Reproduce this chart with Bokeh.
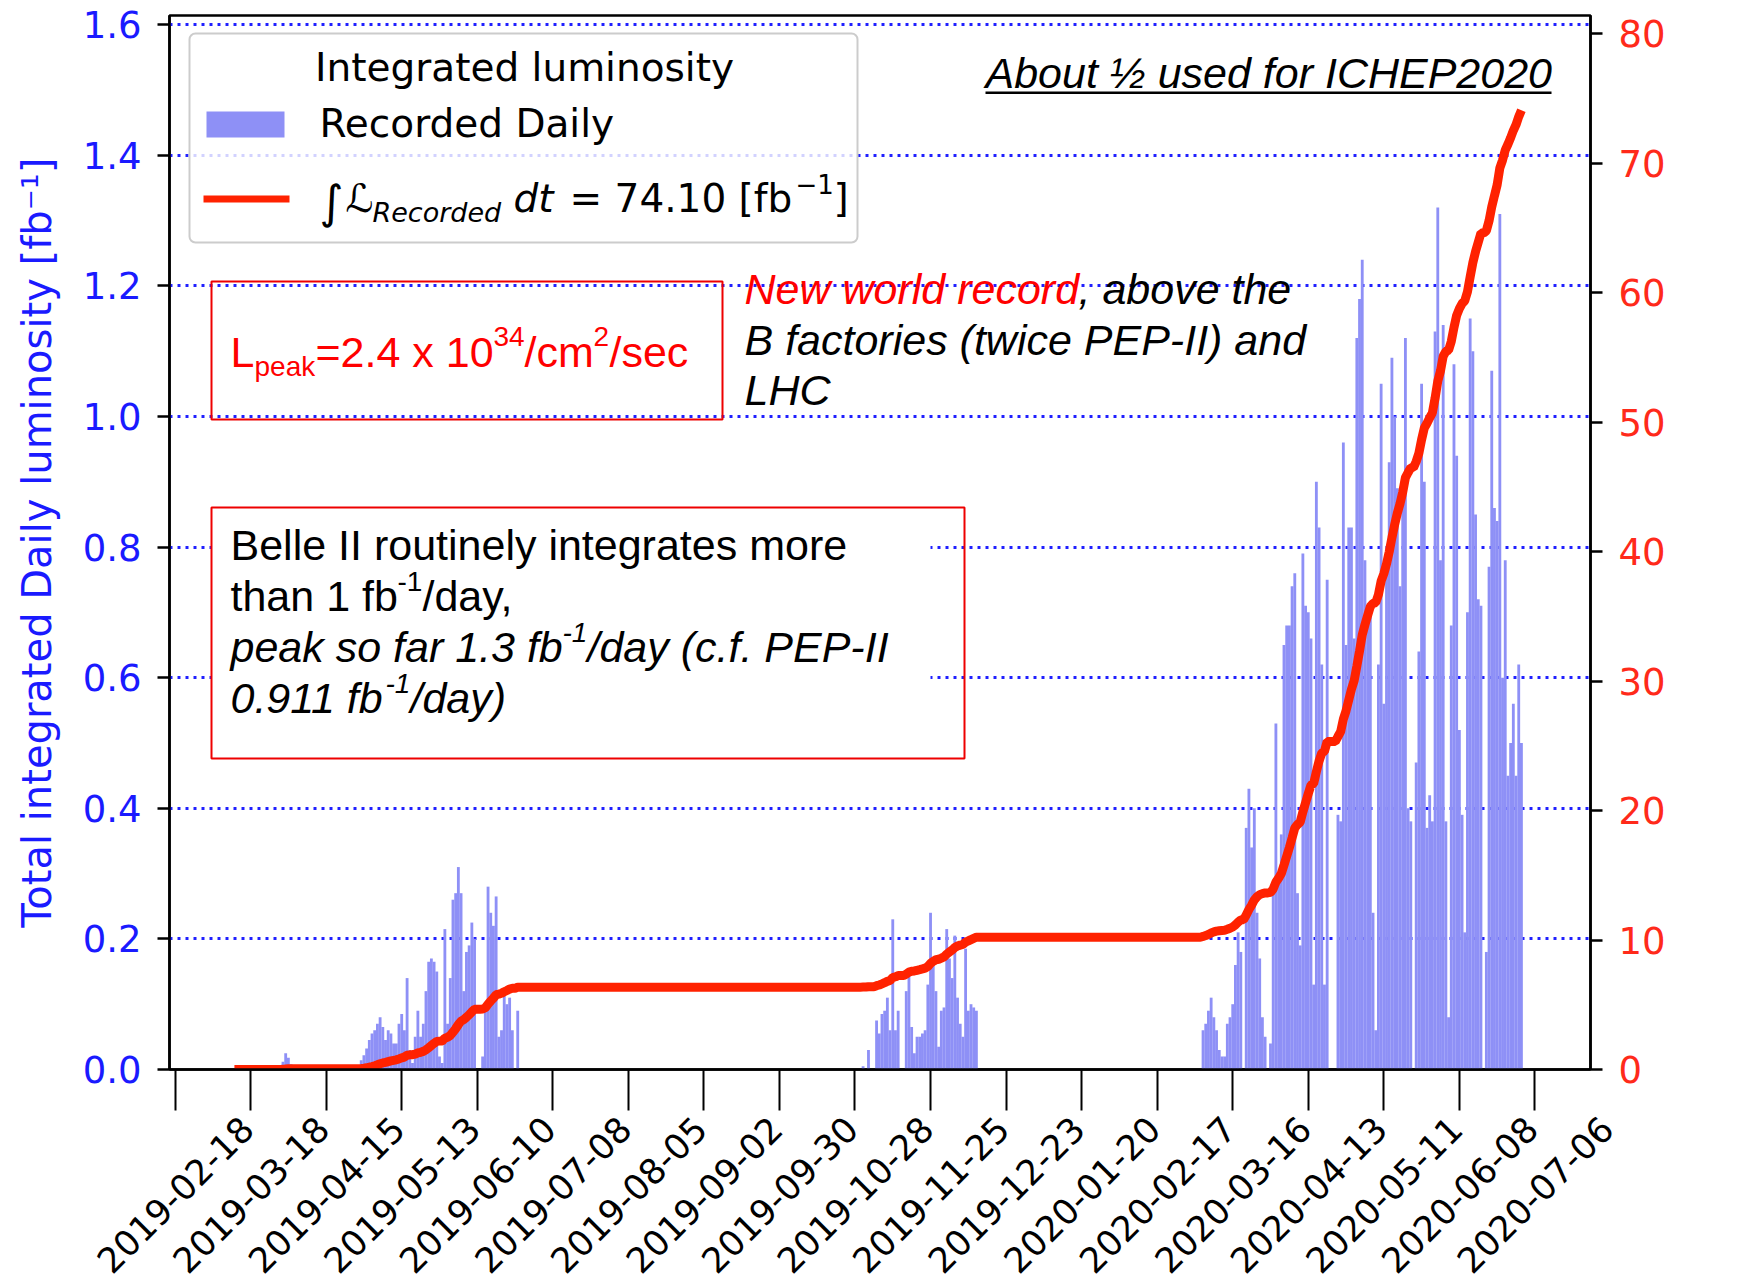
import pandas as pd
from bokeh.plotting import figure
from bokeh.layouts import column
from bokeh.models import (Range1d, LinearAxis, FixedTicker, PrintfTickFormatter,
                          Label, BoxAnnotation, ColumnDataSource)
from bokeh.embed import file_html
from bokeh.resources import INLINE

# ---------------- data ----------------
march_start = "2019-03-30"
march_daily = [0.012, 0.025, 0.018, 0.008]

spring_start = "2019-04-28"
spring_daily = [
    0.014, 0.022, 0.032, 0.045, 0.055, 0.06, 0.07, 0.08, 0.065, 0.045,
    0.06, 0.055, 0.04, 0.04, 0.07, 0.085, 0.06, 0.14, 0.03, 0.01,
    0.05, 0.09, 0.05, 0.07, 0.12, 0.165, 0.17, 0.165, 0.15, 0.02,
    0.01, 0.215, 0.07, 0.14, 0.26, 0.27, 0.31, 0.27, 0.12, 0.18,
    0.19, 0.225, 0.2, 0.0, 0.0, 0.02, 0.1, 0.28, 0.24, 0.22,
    0.265, 0.05, 0.06, 0.115, 0.1, 0.11, 0.06, 0.0, 0.09, 0.0]

autumn_start = "2019-10-31"
autumn_daily = [
    0.005, 0.0, 0.03, 0.0, 0.0, 0.075, 0.055, 0.085, 0.09, 0.11,
    0.06, 0.23, 0.06, 0.09, 0.0, 0.0, 0.12, 0.15, 0.065, 0.025,
    0.05, 0.05, 0.055, 0.06, 0.13, 0.24, 0.16, 0.12, 0.035, 0.09,
    0.095, 0.215, 0.17, 0.14, 0.205, 0.11, 0.07, 0.05, 0.185, 0.09,
    0.1, 0.095, 0.09]

run2020_start = "2020-03-05"
run2020_daily = [
    0.06, 0.07, 0.09, 0.11, 0.08, 0.06, 0.03, 0.02, 0.02, 0.07,
    0.08, 0.1, 0.16, 0.21, 0.18, 0.0, 0.37, 0.43, 0.34, 0.4,
    0.24, 0.17, 0.08, 0.05, 0.0, 0.04, 0.27, 0.53, 0.3, 0.36,
    0.65, 0.68, 0.68, 0.74, 0.76, 0.27, 0.19, 0.79, 0.71, 0.7,
    0.66, 0.13, 0.9, 0.83, 0.62, 0.13, 0.75, 0.0, 0.0, 0.0,
    0.39, 0.38, 0.96, 0.65, 0.83, 0.83, 0.66, 1.12, 1.18, 1.24,
    0.78, 0.71, 0.7, 0.24, 0.06, 0.62, 1.05, 0.56, 0.76, 0.93,
    1.09, 1.0, 0.89, 0.74, 0.89, 1.12, 0.4, 0.38, 0.0, 0.47,
    0.64, 1.05, 0.9, 0.37, 0.42, 0.38, 1.13, 1.32, 0.78, 1.14,
    0.38, 0.08, 0.68, 1.08, 0.94, 0.52, 0.39, 0.21, 0.7, 1.15,
    1.1, 0.85, 0.72, 0.71, 0.0, 0.18, 0.77, 1.07, 0.86, 0.84,
    1.31, 0.6, 0.78, 0.45, 0.5, 0.56, 0.45, 0.62, 0.5]

cumulative_start = "2019-03-12"
cumulative_end = "2020-07-01"

date_ticks = ["2019-02-18", "2019-03-18", "2019-04-15", "2019-05-13", "2019-06-10",
              "2019-07-08", "2019-08-05", "2019-09-02", "2019-09-30", "2019-10-28",
              "2019-11-25", "2019-12-23", "2020-01-20", "2020-02-17", "2020-03-16",
              "2020-04-13", "2020-05-11", "2020-06-08", "2020-07-06"]
daily_ticks = [0.0, 0.2, 0.4, 0.6, 0.8, 1.0, 1.2, 1.4, 1.6]
total_ticks = [0, 10, 20, 30, 40, 50, 60, 70, 80]

# ---------------- derived series ----------------
runs = [(march_start, march_daily), (spring_start, spring_daily),
        (autumn_start, autumn_daily), (run2020_start, run2020_daily)]
calendar = pd.Series(0.0, index=pd.date_range(cumulative_start, cumulative_end, freq="D"))
bar_x, bar_top = [], []
for start, vals in runs:
    idx = pd.date_range(start, periods=len(vals), freq="D")
    calendar.loc[idx] = vals
    for d, v in zip(idx, vals):
        if v > 0:
            bar_x.append(d)
            bar_top.append(v)
cumulative = calendar.cumsum()

def ms(ts):
    return pd.Timestamp(ts).value / 1e6

DAY = 86400000.0
x0 = ms("2019-02-18") - 2.06 * DAY
x1 = ms("2019-02-18") + 524.6 * DAY

W = 1740
BL, BR, BT = 169, 150, 15
FRAME_H = 1054
TICK_BORDER = 42
MAIN_H = BT + FRAME_H + TICK_BORDER        # 1111
STRIP_H = 1276 - MAIN_H                    # 165
FRAME_W = W - BL - BR

BLUE_TXT = "#1a1aff"
RED_TXT = "#ff2a1a"
BAR = "#8e90f6"
LINE_RED = "#ff2200"
BOX_RED = "#ee0000"

p = figure(width=W, height=MAIN_H, x_axis_type="datetime",
           x_range=Range1d(x0, x1), y_range=Range1d(0, 1.614),
           output_backend="svg", toolbar_location=None,
           min_border_left=BL, min_border_right=BR,
           min_border_top=BT, min_border_bottom=TICK_BORDER)
p.frame_align = False
p.extra_y_ranges = {"total": Range1d(0, 81.4)}
p.background_fill_color = "white"
p.border_fill_color = "white"
p.outline_line_color = "black"
p.outline_line_width = 2.5

# grid
p.xgrid.visible = False
p.ygrid.ticker = FixedTicker(ticks=daily_ticks)
p.ygrid.grid_line_color = "#2020ff"
p.ygrid.grid_line_width = 3
p.ygrid.grid_line_dash = "3 5"

# bottom axis: long tick marks (dates are written in the strip below)
xa = p.xaxis[0]
xa.ticker = FixedTicker(ticks=[ms(d) for d in date_ticks])
xa.major_label_text_color = None
xa.major_tick_out = 41
xa.major_tick_in = 0
xa.major_tick_line_width = 2
xa.minor_tick_line_color = None
xa.axis_line_width = 2.5

# left axis
ya = p.yaxis[0]
ya.ticker = FixedTicker(ticks=daily_ticks)
ya.formatter = PrintfTickFormatter(format="%.1f")
ya.major_label_text_color = BLUE_TXT
ya.major_label_text_font = "DejaVu Sans"
ya.major_label_text_font_size = "37px"
ya.major_tick_out = 12
ya.major_tick_in = 0
ya.major_tick_line_width = 2.5
ya.minor_tick_line_color = None
ya.axis_line_width = 2.5
ya.major_label_standoff = 16
ya.axis_label = "Total integrated Daily luminosity [fb⁻¹]"
ya.axis_label_text_color = BLUE_TXT
ya.axis_label_text_font = "DejaVu Sans"
ya.axis_label_text_font_size = "40px"
ya.axis_label_text_font_style = "normal"
ya.axis_label_standoff = 20

# right axis
ra = LinearAxis(y_range_name="total", ticker=FixedTicker(ticks=total_ticks))
ra.major_label_text_color = RED_TXT
ra.major_label_text_font = "DejaVu Sans"
ra.major_label_text_font_size = "37px"
ra.major_tick_out = 12
ra.major_tick_in = 0
ra.major_tick_line_width = 2.5
ra.minor_tick_line_color = None
ra.axis_line_width = 2.5
ra.major_label_standoff = 16
p.add_layout(ra, "right")

# data
bar_src = ColumnDataSource(dict(x=bar_x, top=bar_top))
p.vbar(x="x", top="top", bottom=0, width=DAY * 1.05, source=bar_src,
       fill_color=BAR, line_color=None)
line_src = ColumnDataSource(dict(x=list(cumulative.index), y=list(cumulative.values)))
p.line(x="x", y="y", source=line_src, y_range_name="total",
       line_color=LINE_RED, line_width=9)

# right axis label
p.add_layout(Label(x=1535, y=525, x_units="screen", y_units="screen",
                   text="Total integrated luminosity [fb⁻¹]", angle=90, angle_units="deg",
                   text_align="center", text_baseline="middle",
                   text_font="DejaVu Sans", text_font_size="40px", text_color=RED_TXT))

def box(l, r, t, b, **kw):
    kw.setdefault("line_alpha", 1.0)
    p.add_layout(BoxAnnotation(left=l, right=r, top=t, bottom=b,
                               left_units="screen", right_units="screen",
                               top_units="screen", bottom_units="screen", **kw))

def txt(x, y, s, font="Liberation Sans", size=43, color="black", style="normal",
        align="left", baseline="middle"):
    p.add_layout(Label(x=x, y=y, x_units="screen", y_units="screen", text=s,
                       text_font=font, text_font_size=f"{size}px", text_color=color,
                       text_font_style=style, text_align=align, text_baseline=baseline))

# legend (manual)
box(20, 688, 1036, 827, fill_color="white", fill_alpha=0.8,
    line_color="#cccccc", line_width=2, border_radius=6)
txt(355, 1002, "Integrated luminosity", font="DejaVu Sans", size=39, align="center")
box(37, 115, 958, 932, fill_color=BAR, fill_alpha=1, line_color=None)
txt(150, 946, "Recorded Daily", font="DejaVu Sans", size=39)
box(34, 120, 874, 867, fill_color=LINE_RED, fill_alpha=1, line_color=None)
txt(150, 868, "∫", font="DejaVu Sans", size=46)
txt(176, 871, "ℒ", font="DejaVu Sans", size=39, style="italic")
txt(203, 857, "Recorded", font="DejaVu Sans", size=27, style="italic")
txt(344, 871, "dt", font="DejaVu Sans", size=39, style="italic")
txt(400, 871, "= 74.10 [fb", font="DejaVu Sans", size=39)
txt(626, 886, "−1", font="DejaVu Sans", size=26)
txt(664, 871, "]", font="DejaVu Sans", size=39)

# "About 1/2 used for ICHEP2020"
txt(816, 997, "About ½ used for ICHEP2020", style="italic")
box(816, 1382, 978, 975.5, fill_color="black", fill_alpha=1, line_color=None)

# new world record
txt(575, 781, "New world record", style="italic", color="#ff0000")
txt(909, 781, ", above the", style="italic")
txt(575, 730, "B factories (twice PEP-II) and", style="italic")
txt(575, 680, "LHC", style="italic")

# L_peak box
box(42, 553, 788, 650, fill_alpha=0, line_color=BOX_RED, line_width=2)
txt(61, 718, "L", color="#ff0000")
txt(85, 703, "peak", size=28, color="#ff0000")
txt(146, 718, "=2.4 x 10", color="#ff0000")
txt(324, 733, "34", size=28, color="#ff0000")
txt(355, 718, "/cm", color="#ff0000")
txt(424, 733, "2", size=28, color="#ff0000")
txt(440, 718, "/sec", color="#ff0000")

# Belle II box
box(42, 761, 562, 311, fill_color="white", fill_alpha=1, line_color=None)
box(42, 795, 562, 311, fill_alpha=0, line_color=BOX_RED, line_width=2)
txt(61, 525, "Belle II routinely integrates more")
txt(61, 474, "than 1 fb")
txt(228, 488, "-1", size=28)
txt(253, 474, "/day,")
txt(61, 423, "peak so far 1.3 fb", style="italic")
txt(393, 437, "-1", size=28, style="italic")
txt(418, 423, "/day (c.f. PEP-II", style="italic")
txt(61, 372, "0.911 fb", style="italic")
txt(216, 386, "-1", size=28, style="italic")
txt(241, 372, "/day)", style="italic")

# ---------------- strip below the plot carrying the rotated date labels ----------------
# full-width frame on the same time scale as the main frame (range widened by the borders)
ms_per_px = (x1 - x0) / FRAME_W
strip = figure(width=W, height=STRIP_H, x_axis_type=None, y_axis_type=None,
               x_range=Range1d(x0 - BL * ms_per_px, x1 + BR * ms_per_px),
               y_range=Range1d(0, STRIP_H),
               output_backend="svg", toolbar_location=None,
               min_border_left=0, min_border_right=0, min_border_top=0, min_border_bottom=0)
strip.frame_align = False
strip.outline_line_color = None
strip.xgrid.visible = False
strip.ygrid.visible = False
strip.background_fill_color = "white"
strip.border_fill_color = "white"
for d in date_ticks:
    strip.add_layout(Label(x=ms(d), y=STRIP_H - 83, x_units="data", y_units="screen",
                           text=d, angle=45, angle_units="deg", text_align="center",
                           text_baseline="middle", text_font="DejaVu Sans",
                           text_font_size="35px", text_color="black"))

layout = column(p, strip, spacing=0)
open("out.html", "w").write(file_html(layout, INLINE))
